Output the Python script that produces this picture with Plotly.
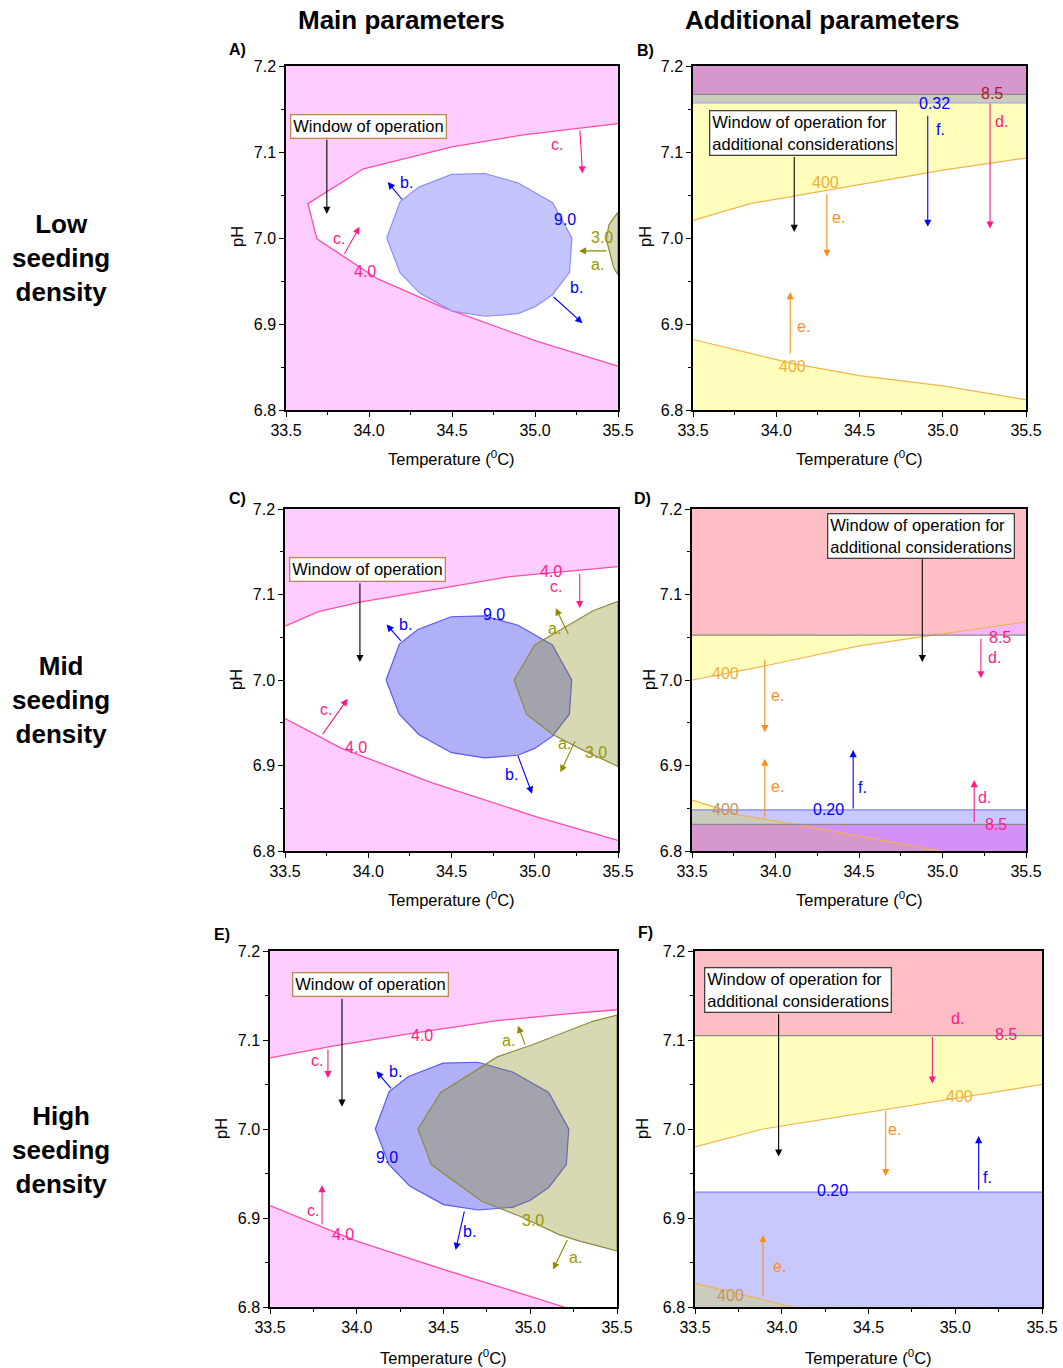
import numpy as np
import plotly.graph_objects as go

FONT = "Liberation Sans, Arial, Helvetica, sans-serif"
W, H = 1063, 1368

# ---------------- data ----------------
T_RANGE = [33.5, 35.5]
PH_RANGE = [6.8, 7.2]
T_TICKS = [33.5, 34.0, 34.5, 35.0, 35.5]
PH_TICKS = [6.8, 6.9, 7.0, 7.1, 7.2]
T_TICK_LABELS = ["33.5", "34.0", "34.5", "35.0", "35.5"]
PH_TICK_LABELS = ["6.8", "6.9", "7.0", "7.1", "7.2"]

COL_TITLES = ["Main parameters", "Additional parameters"]
ROW_TITLES = ["Low<br>seeding<br>density", "Mid<br>seeding<br>density", "High<br>seeding<br>density"]
PANEL_LETTERS = ["A)", "B)", "C)", "D)", "E)", "F)"]
X_TITLE = "Temperature (<sup>0</sup>C)"
Y_TITLE = "pH"
BOX_MAIN = "Window of operation"
BOX_ADD = "Window of operation for<br>additional considerations"

# b. contour (9.0), same in A, C, E
B90_T = [34.107, 34.187, 34.298, 34.498, 34.698, 34.899, 35.106, 35.222,
         35.208, 35.105, 35.000, 34.898, 34.700, 34.500, 34.305, 34.186]
B90_PH = [7.000, 7.042, 7.059, 7.074, 7.075, 7.064, 7.041, 7.000,
          6.960, 6.934, 6.920, 6.912, 6.909, 6.915, 6.936, 6.960]

# Panel A
A_C40_T = [35.5, 35.27, 34.93, 34.5, 33.967, 33.632, 33.686, 34.047, 34.438, 35.009, 35.5]
A_C40_PH = [7.133, 7.128, 7.120, 7.106, 7.0805, 7.040, 6.999, 6.953, 6.920, 6.880, 6.851]
A_A30_T = [35.5, 35.445, 35.43, 35.475, 35.5]
A_A30_PH = [7.030, 7.015, 6.998, 6.965, 6.957]

# Panel C
C_C40U_T = [33.5, 33.7, 33.95, 34.5, 34.85, 35.5]
C_C40U_PH = [7.063, 7.080, 7.091, 7.109, 7.121, 7.1325]
C_C40L_T = [33.5, 33.84, 34.38, 35.01, 35.5]
C_C40L_PH = [6.955, 6.920, 6.880, 6.840, 6.8125]
C_A30_T = [35.5, 35.35, 35.0, 34.876, 34.95, 35.11, 35.29, 35.5]
C_A30_PH = [7.092, 7.081, 7.041, 7.000, 6.960, 6.936, 6.918, 6.899]

# Panel E
E_C40U_T = [33.5, 33.86, 34.3, 34.82, 35.2, 35.5]
E_C40U_PH = [7.080, 7.093, 7.107, 7.122, 7.129, 7.134]
E_C40L_T = [33.5, 34.0, 34.52, 35.195]
E_C40L_PH = [6.914, 6.874, 6.841, 6.800]
E_A30_T = [35.5, 35.36, 35.016, 34.81, 34.484, 34.353, 34.43, 34.718, 34.94, 35.17, 35.285, 35.5]
E_A30_PH = [7.128, 7.121, 7.095, 7.081, 7.041, 7.000, 6.960, 6.919, 6.902, 6.881, 6.874, 6.863]

# Panel B
B_E400U_T = [33.5, 33.844, 35.0, 35.5]
B_E400U_PH = [7.0205, 7.040, 7.079, 7.093]
B_E400L_T = [33.5, 33.8, 34.1, 34.5, 35.0, 35.5]
B_E400L_PH = [6.882, 6.868, 6.854, 6.840, 6.828, 6.812]
B_F032 = 7.157
B_D85 = 7.167

# Panel D
D_E400U_T = [33.5, 33.9, 34.5, 35.0, 35.5]
D_E400U_PH = [7.000, 7.015, 7.040, 7.054, 7.068]
D_E400L_T = [33.5, 33.787, 34.087, 34.985]
D_E400L_PH = [6.8596, 6.842, 6.8324, 6.800]
D_F020 = 6.848
D_D85_UP = 7.0525
D_D85_LO = 6.8312

# Panel F
F_E400U_T = [33.5, 33.892, 35.5]
F_E400U_PH = [6.980, 7.000, 7.050]
F_E400L_T = [33.5, 34.065]
F_E400L_PH = [6.8266, 6.800]
F_F020 = 6.929
F_D85 = 7.105

# ---------------- styles ----------------
PINK_FILL = "#FFCCFF"
PINK_LINE = "#FF4DA6"
PINK = "#FF1A8C"
BLUE = "#0000FF"
OLIVE_T = "#999900"
OLIVE_A = "#8C8C00"
OLIVE_EDGE = "#8C8C3C"
OLIVE_FILL = "rgba(136,136,22,0.33)"
ORANGE = "#FF8C1A"
GOLD = "#EBB03C"
GOLD_LINE = "#F0B450"
TAN = "#C39460"
DARKRED = "#A0202A"

C_Y = "#FFFFBB"
C_B = "#C8C8FF"
C_P = "#F7B5F5"
C_YB = "#CCCCBE"
C_YP = "#FFBEC4"
C_BP = "#D48FF8"
C_YBP = "#D696CE"

# panel pixel boxes: left, right, top, bottom
PANEL_PX = {1: (286, 618, 66, 410), 2: (693, 1026, 66, 410),
            3: (285, 618, 509, 851), 4: (692, 1026, 509, 851),
            5: (270, 617, 951, 1307), 6: (695, 1042, 951, 1307)}


def xn(i):
    return "x" if i == 1 else f"x{i}"


def yn(i):
    return "y" if i == 1 else f"y{i}"


def px(xp):
    return xp / W


def py(yp):
    return 1 - yp / H


fig = go.Figure()


def add_poly(i, xs, ys, fill, line=None, lw=0.0, close=True):
    xs = list(xs)
    ys = list(ys)
    if close:
        xs.append(xs[0])
        ys.append(ys[0])
    fig.add_trace(go.Scatter(
        x=xs, y=ys, mode="lines", fill="toself",
        fillcolor=fill, line=dict(color=line or "rgba(0,0,0,0)", width=lw),
        hoverinfo="skip", showlegend=False, xaxis=xn(i), yaxis=yn(i)))


def add_line(i, xs, ys, color, lw=1.3):
    fig.add_trace(go.Scatter(
        x=list(xs), y=list(ys), mode="lines", line=dict(color=color, width=lw),
        hoverinfo="skip", showlegend=False, xaxis=xn(i), yaxis=yn(i)))


XS = np.linspace(T_RANGE[0], T_RANGE[1], 801)
TOP = np.full_like(XS, PH_RANGE[1])
BOT = np.full_like(XS, PH_RANGE[0])


def const(v):
    return np.full_like(XS, v)


def add_band(i, lo, hi, color):
    hi2 = np.maximum(hi, lo)
    if np.all(hi2 - lo <= 1e-9):
        return
    x = np.concatenate([XS, XS[::-1]])
    y = np.concatenate([lo, hi2[::-1]])
    add_poly(i, x, y, color, close=False)


def inter(r1, r2):
    out = []
    for lo1, hi1 in r1:
        for lo2, hi2 in r2:
            out.append((np.maximum(lo1, lo2), np.minimum(hi1, hi2)))
    return out


def paint_regions(i, RY, RB, RP):
    for reg, col in ((RY, C_Y), (RB, C_B), (RP, C_P)):
        for lo, hi in reg:
            add_band(i, lo, hi, col)
    for reg, col in ((inter(RY, RB), C_YB), (inter(RY, RP), C_YP), (inter(RB, RP), C_BP)):
        for lo, hi in reg:
            add_band(i, lo, hi, col)
    for lo, hi in inter(inter(RY, RB), RP):
        add_band(i, lo, hi, C_YBP)


full_rect_T = [T_RANGE[0], T_RANGE[1], T_RANGE[1], T_RANGE[0]]
full_rect_PH = [PH_RANGE[0], PH_RANGE[0], PH_RANGE[1], PH_RANGE[1]]

# ---------- Panel A ----------
add_poly(1, full_rect_T, full_rect_PH, PINK_FILL)
add_poly(1, A_C40_T, A_C40_PH, "white")
add_line(1, A_C40_T, A_C40_PH, PINK_LINE)
add_poly(1, B90_T, B90_PH, "#C4C4FF", line="#8C8CFF", lw=1.2)
add_poly(1, A_A30_T, A_A30_PH, OLIVE_FILL, line=OLIVE_EDGE, lw=1.2)

# ---------- Panel C ----------
add_poly(3, full_rect_T, full_rect_PH, PINK_FILL)
add_poly(3, C_C40U_T + C_C40L_T[::-1], C_C40U_PH + C_C40L_PH[::-1], "white")
add_line(3, C_C40U_T, C_C40U_PH, PINK_LINE)
add_line(3, C_C40L_T, C_C40L_PH, PINK_LINE)
add_poly(3, B90_T, B90_PH, "#B0B0F8", line="#5A5AEE", lw=1.2)
add_poly(3, C_A30_T, C_A30_PH, OLIVE_FILL, line=OLIVE_EDGE, lw=1.2)

# ---------- Panel E ----------
add_poly(5, full_rect_T, full_rect_PH, PINK_FILL)
add_poly(5, E_C40U_T + [T_RANGE[1]] + E_C40L_T[::-1],
         E_C40U_PH + [PH_RANGE[0]] + E_C40L_PH[::-1], "white")
add_line(5, E_C40U_T, E_C40U_PH, PINK_LINE)
add_line(5, E_C40L_T, E_C40L_PH, PINK_LINE)
add_poly(5, B90_T, B90_PH, "#B0B0F8", line="#5A5AEE", lw=1.2)
add_poly(5, E_A30_T, E_A30_PH, OLIVE_FILL, line=OLIVE_EDGE, lw=1.2)

# ---------- Panel B ----------
bU = np.interp(XS, B_E400U_T, B_E400U_PH)
bL = np.interp(XS, B_E400L_T, B_E400L_PH)
paint_regions(2, [(bU, TOP), (BOT, bL)], [(const(B_F032), TOP)], [(const(B_D85), TOP)])
add_line(2, B_E400U_T, B_E400U_PH, GOLD_LINE, 1.2)
add_line(2, B_E400L_T, B_E400L_PH, GOLD_LINE, 1.2)
add_line(2, T_RANGE, [B_F032, B_F032], "#9999FF", 1.2)
add_line(2, T_RANGE, [B_D85, B_D85], "#8A8A8A", 1.2)

# ---------- Panel D ----------
dU = np.interp(XS, D_E400U_T, D_E400U_PH)
dL = np.interp(XS, D_E400L_T, D_E400L_PH)
paint_regions(4, [(dU, TOP), (BOT, dL)], [(BOT, const(D_F020))],
              [(const(D_D85_UP), TOP), (BOT, const(D_D85_LO))])
add_line(4, D_E400U_T, D_E400U_PH, GOLD_LINE, 1.2)
add_line(4, D_E400L_T, D_E400L_PH, GOLD_LINE, 1.2)
add_line(4, T_RANGE, [D_F020, D_F020], "#8080FF", 1.2)
add_line(4, T_RANGE, [D_D85_UP, D_D85_UP], "#8A8A8A", 1.2)
add_line(4, T_RANGE, [D_D85_LO, D_D85_LO], "#8A8A8A", 1.2)

# ---------- Panel F ----------
fU = np.interp(XS, F_E400U_T, F_E400U_PH)
fL = np.interp(XS, F_E400L_T, F_E400L_PH)
paint_regions(6, [(fU, TOP), (BOT, fL)], [(BOT, const(F_F020))], [(const(F_D85), TOP)])
add_line(6, F_E400U_T, F_E400U_PH, GOLD_LINE, 1.2)
add_line(6, F_E400L_T, F_E400L_PH, GOLD_LINE, 1.2)
add_line(6, T_RANGE, [F_F020, F_F020], "#8080FF", 1.2)
add_line(6, T_RANGE, [F_D85, F_D85], "#8A8A8A", 1.2)

# ---------------- annotations ----------------
LABELS = {
    1: [("c.", 35.13, 7.109, PINK), ("c.", 33.82, 7.000, PINK), ("4.0", 33.977, 6.961, PINK),
        ("b.", 34.223, 7.064, BLUE), ("9.0", 35.18, 7.022, BLUE), ("b.", 35.25, 6.942, BLUE),
        ("3.0", 35.406, 7.001, OLIVE_T), ("a.", 35.374, 6.969, OLIVE_T)],
    2: [("400", 34.294, 7.064, GOLD), ("e.", 34.374, 7.024, ORANGE), ("0.32", 34.948, 7.156, BLUE),
        ("f.", 34.988, 7.126, BLUE), ("8.5", 35.294, 7.168, DARKRED), ("d.", 35.354, 7.135, PINK),
        ("e.", 34.164, 6.897, ORANGE), ("400", 34.098, 6.851, GOLD)],
    3: [("4.0", 35.10, 7.127, PINK), ("c.", 35.126, 7.109, PINK), ("9.0", 34.756, 7.077, BLUE),
        ("b.", 34.224, 7.065, BLUE), ("a.", 35.12, 7.060, OLIVE_T), ("c.", 33.746, 6.966, PINK),
        ("4.0", 33.926, 6.921, PINK), ("a.", 35.18, 6.926, OLIVE_T), ("3.0", 35.366, 6.915, OLIVE_T),
        ("b.", 34.86, 6.889, BLUE)],
    4: [("8.5", 35.344, 7.050, PINK), ("d.", 35.31, 7.026, PINK), ("400", 33.70, 7.008, GOLD),
        ("e.", 34.011, 6.982, ORANGE), ("e.", 34.011, 6.875, ORANGE), ("f.", 34.52, 6.874, BLUE),
        ("0.20", 34.319, 6.848, BLUE), ("400", 33.70, 6.848, TAN), ("d.", 35.254, 6.863, PINK),
        ("8.5", 35.318, 6.831, PINK)],
    5: [("4.0", 34.378, 7.105, PINK), ("a.", 34.872, 7.099, OLIVE_T), ("c.", 33.771, 7.077, PINK),
        ("b.", 34.224, 7.065, BLUE), ("9.0", 34.174, 6.968, BLUE), ("c.", 33.748, 6.908, PINK),
        ("4.0", 33.921, 6.881, PINK), ("3.0", 35.016, 6.897, OLIVE_T), ("b.", 34.647, 6.885, BLUE),
        ("a.", 35.262, 6.856, OLIVE_T)],
    6: [("d.", 35.012, 7.124, PINK), ("8.5", 35.294, 7.106, PINK), ("400", 35.025, 7.037, GOLD),
        ("e.", 34.651, 7.000, ORANGE), ("0.20", 34.295, 6.931, BLUE), ("f.", 35.183, 6.945, BLUE),
        ("e.", 33.988, 6.846, ORANGE), ("400", 33.704, 6.813, TAN)],
}

ARROWS = {
    1: [(35.27, 7.127, 35.286, 7.075, PINK), (33.847, 6.980, 33.943, 7.013, PINK),
        (34.207, 7.043, 34.113, 7.065, BLUE), (35.103, 6.933, 35.286, 6.901, BLUE),
        (35.44, 6.985, 35.265, 6.985, OLIVE_A), (33.746, 7.116, 33.746, 7.028, "black")],
    2: [(34.304, 7.053, 34.304, 6.978, ORANGE), (34.91, 7.144, 34.91, 7.013, BLUE),
        (35.284, 7.158, 35.284, 7.011, PINK), (34.084, 6.864, 34.084, 6.937, ORANGE),
        (34.108, 7.096, 34.108, 7.007, "black")],
    3: [(35.27, 7.126, 35.27, 7.084, PINK), (34.204, 7.044, 34.11, 7.065, BLUE),
        (35.206, 7.052, 35.126, 7.084, OLIVE_A), (33.72, 6.935, 33.876, 6.978, PINK),
        (35.246, 6.930, 35.154, 6.892, OLIVE_A), (34.896, 6.913, 34.984, 6.867, BLUE),
        (33.95, 7.115, 33.95, 7.021, "black")],
    4: [(35.23, 7.050, 35.23, 7.002, PINK), (33.936, 7.026, 33.936, 6.939, ORANGE),
        (33.936, 6.838, 33.936, 6.908, ORANGE), (34.465, 6.848, 34.465, 6.918, BLUE),
        (35.19, 6.832, 35.19, 6.883, PINK), (34.879, 7.143, 34.879, 7.021, "black")],
    5: [(34.974, 7.093, 34.929, 7.116, OLIVE_A), (33.834, 7.091, 33.834, 7.057, PINK),
        (34.205, 7.044, 34.113, 7.065, BLUE), (33.80, 6.891, 33.80, 6.937, PINK),
        (34.622, 6.909, 34.57, 6.864, BLUE), (35.218, 6.877, 35.131, 6.842, OLIVE_A),
        (33.915, 7.148, 33.915, 7.025, "black")],
    6: [(34.868, 7.105, 34.868, 7.051, PINK), (34.599, 7.022, 34.599, 6.947, ORANGE),
        (35.135, 6.930, 35.135, 6.992, BLUE), (33.892, 6.810, 33.892, 6.881, ORANGE),
        (33.982, 7.131, 33.982, 6.969, "black")],
}

BOXES = {
    1: (BOX_MAIN, 33.996, 7.130, "#B8894A"),
    2: (BOX_ADD, 34.158, 7.122, "#404040"),
    3: (BOX_MAIN, 33.995, 7.129, "#B8894A"),
    4: (BOX_ADD, 34.869, 7.168, "#404040"),
    5: (BOX_MAIN, 34.078, 7.162, "#B8894A"),
    6: (BOX_ADD, 34.093, 7.156, "#404040"),
}

# label positions in pixels
LETTER_PX = {1: (237, 49), 2: (645, 50), 3: (237, 498), 4: (642, 498), 5: (222, 934), 6: (645, 933)}
XTITLE_PX = {1: (451, 458), 2: (859, 458), 3: (451, 899), 4: (859, 899), 5: (443, 1357), 6: (868, 1357)}
YTITLE_PX = {1: (237, 237), 2: (645, 237), 3: (236, 680), 4: (649, 680), 5: (221, 1129), 6: (642, 1129)}
COL_PX = [(401, 20), (822, 20)]
ROW_PX = [(61, 258), (61, 700), (61, 1150)]

ann = []
for i in range(1, 7):
    for (x0, y0, x1, y1, c) in ARROWS[i]:
        ann.append(dict(xref=xn(i), yref=yn(i), axref=xn(i), ayref=yn(i),
                        x=x1, y=y1, ax=x0, ay=y0, text="", showarrow=True,
                        arrowhead=2, arrowsize=1.3, arrowwidth=1.1, arrowcolor=c,
                        standoff=0, startstandoff=0))
    for (t, x, y, c) in LABELS[i]:
        ann.append(dict(xref=xn(i), yref=yn(i), x=x, y=y, text=t, showarrow=False,
                        xanchor="center", yanchor="middle",
                        font=dict(family=FONT, size=16, color=c)))
    t, x, y, bc = BOXES[i]
    ann.append(dict(xref=xn(i), yref=yn(i), x=x, y=y, text=t, showarrow=False,
                    xanchor="center", yanchor="middle", align="left",
                    bgcolor="white", bordercolor=bc, borderwidth=1.3, borderpad=2,
                    font=dict(family=FONT, size=16.5, color="black")))
    lx, ly = LETTER_PX[i]
    ann.append(dict(xref="paper", yref="paper", x=px(lx), y=py(ly), text=f"<b>{PANEL_LETTERS[i-1]}</b>",
                    showarrow=False, xanchor="center", yanchor="middle",
                    font=dict(family=FONT, size=16, color="black")))
    tx, ty = XTITLE_PX[i]
    ann.append(dict(xref="paper", yref="paper", x=px(tx), y=py(ty), text=X_TITLE,
                    showarrow=False, xanchor="center", yanchor="middle",
                    font=dict(family=FONT, size=16.5, color="black")))
    tx, ty = YTITLE_PX[i]
    ann.append(dict(xref="paper", yref="paper", x=px(tx), y=py(ty), text=Y_TITLE,
                    showarrow=False, xanchor="center", yanchor="middle", textangle=-90,
                    font=dict(family=FONT, size=16.5, color="black")))

for t, (x, y) in zip(COL_TITLES, COL_PX):
    ann.append(dict(xref="paper", yref="paper", x=px(x), y=py(y), text=f"<b>{t}</b>",
                    showarrow=False, xanchor="center", yanchor="middle",
                    font=dict(family=FONT, size=26, color="black")))
for t, (x, y) in zip(ROW_TITLES, ROW_PX):
    ann.append(dict(xref="paper", yref="paper", x=px(x), y=py(y), text=f"<b>{t}</b>",
                    showarrow=False, xanchor="center", yanchor="middle",
                    font=dict(family=FONT, size=26, color="black")))

layout = dict(width=W, height=H, autosize=False,
              margin=dict(l=0, r=0, t=0, b=0, pad=0, autoexpand=False),
              paper_bgcolor="white", plot_bgcolor="white", showlegend=False,
              annotations=ann, font=dict(family=FONT, color="black"))

for i in range(1, 7):
    l, r, t, b = PANEL_PX[i]
    xa = dict(domain=[px(l), px(r)], range=T_RANGE, anchor=yn(i), automargin=False,
              tickmode="array", tickvals=T_TICKS, ticktext=T_TICK_LABELS,
              showline=True, linecolor="black", linewidth=1.5, mirror=True,
              ticks="outside", ticklen=5, tickwidth=1.2, tickcolor="black",
              showgrid=False, zeroline=False,
              tickfont=dict(family=FONT, size=16, color="black"),
              minor=dict(tick0=T_RANGE[0], dtick=0.25, ticks="outside", ticklen=3,
                         tickwidth=1, tickcolor="black", showgrid=False))
    ya = dict(domain=[py(b), py(t)], range=PH_RANGE, anchor=xn(i), automargin=False,
              tickmode="array", tickvals=PH_TICKS, ticktext=PH_TICK_LABELS,
              showline=True, linecolor="black", linewidth=1.5, mirror=True,
              ticks="outside", ticklen=5, tickwidth=1.2, tickcolor="black",
              showgrid=False, zeroline=False,
              tickfont=dict(family=FONT, size=16, color="black"),
              minor=dict(tick0=PH_RANGE[0], dtick=0.05, ticks="outside", ticklen=3,
                         tickwidth=1, tickcolor="black", showgrid=False))
    layout["xaxis" if i == 1 else f"xaxis{i}"] = xa
    layout["yaxis" if i == 1 else f"yaxis{i}"] = ya

fig.update_layout(**layout)
fig.write_html("out.html")
